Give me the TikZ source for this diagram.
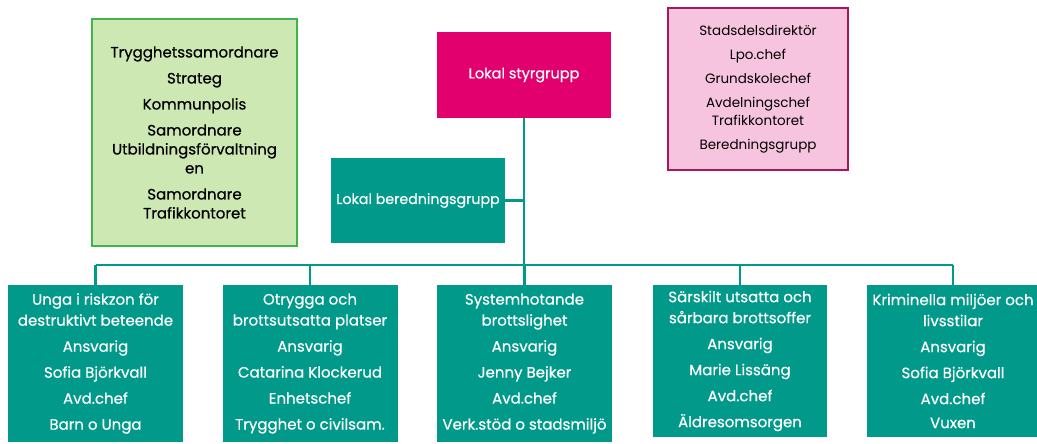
\documentclass[tikz,border=0pt]{standalone}
\usepackage{fontspec}
\setmainfont{Poppins}
\newfontfamily\medfont{Poppins}[FakeBold=0.5]
\definecolor{teal}{HTML}{00998A}
\definecolor{magenta}{HTML}{E2006E}
\definecolor{lgreen}{HTML}{CDE8B2}
\definecolor{dgreen}{HTML}{3DB54A}
\definecolor{lpink}{HTML}{F7C4E0}
\definecolor{dpink}{HTML}{A8175E}
\tikzset{
  tbox/.style={rectangle, fill=teal, text=white, inner sep=0pt, align=center,
    minimum width=175pt, font=\medfont\fontsize{15}{21}\selectfont},
  conn/.style={draw=teal, line width=2.6pt},
}
\begin{document}
\begin{tikzpicture}[x=1pt,y=-1pt]
\useasboundingbox (0,0) rectangle (1037,444);
% side boxes
\node[rectangle, fill=lgreen, draw=dgreen, line width=2pt, minimum width=205pt, minimum height=227pt,
  inner sep=0pt, align=center, font=\medfont\fontsize{15}{19}\selectfont] (grn) at (194.5,132.5)
  {Trygghetssamordnare\\[7pt]Strateg\\[7pt]Kommunpolis\\[7pt]Samordnare\\Utbildningsförvaltning\\en\\[7pt]Samordnare\\Trafikkontoret};
\node[rectangle, fill=lpink, draw=dpink, line width=2pt, minimum width=180pt, minimum height=162pt,
  inner sep=0pt, align=center, font=\fontsize{13.5}{18}\selectfont] (pnk) at (758,89)
  {Stadsdelsdirektör\\[6pt]Lpo.chef\\[6pt]Grundskolechef\\[6pt]Avdelningschef\\Trafikkontoret\\[6pt]Beredningsgrupp};
% top
\node[rectangle, fill=magenta, text=white, minimum width=174pt, minimum height=86pt, inner sep=0pt,
  font=\medfont\fontsize{14.5}{16}\selectfont] (styr) at (524,75) {Lokal styrgrupp};
\node[rectangle, fill=teal, text=white, minimum width=174pt, minimum height=85pt, inner sep=0pt,
  font=\medfont\fontsize{14.2}{16}\selectfont] (bered) at (418,200.5) {Lokal beredningsgrupp};
% bottom
\node[tbox, minimum height=157pt] (b1) at (95.5,363.5)
  {Unga i riskzon för\\destruktivt beteende\\[5pt]Ansvarig\\[5pt]Sofia Björkvall\\[5pt]Avd.chef\\[5pt]Barn o Unga};
\node[tbox, minimum height=157pt] (b2) at (310,363.5)
  {Otrygga och\\brottsutsatta platser\\[5pt]Ansvarig\\[5pt]Catarina Klockerud\\[5pt]Enhetschef\\[5pt]Trygghet o civilsam.};
\node[tbox, minimum height=157pt] (b3) at (524.5,363.5)
  {Systemhotande\\brottslighet\\[5pt]Ansvarig\\[5pt]Jenny Bejker\\[5pt]Avd.chef\\[5pt]Verk.stöd o stadsmiljö};
\node[tbox, minimum height=152pt, minimum width=174pt] (b4) at (740,361)
  {Särskilt utsatta och\\sårbara brottsoffer\\[5pt]Ansvarig\\[5pt]Marie Lissäng\\[5pt]Avd.chef\\[5pt]Äldresomsorgen};
\node[tbox, minimum height=152pt, minimum width=172pt] (b5) at (953,361)
  {Kriminella miljöer och\\livsstilar\\[5pt]Ansvarig\\[5pt]Sofia Björkvall\\[5pt]Avd.chef\\[3pt]Vuxen};
% connectors
\coordinate (bus) at (styr.south |- 0,265);
\coordinate (busL) at (b1.north |- 0,265);
\coordinate (busR) at (b5.north |- 0,265);
\draw[conn] (styr.south) -- (bus);
\draw[conn] (bered.east) -- (bered.east -| bus);
\draw[conn] (busL) -- (busR);
\foreach \b in {b1,b2,b3,b4,b5} \draw[conn] (\b.north |- bus) -- (\b.north);
\end{tikzpicture}
\end{document}
